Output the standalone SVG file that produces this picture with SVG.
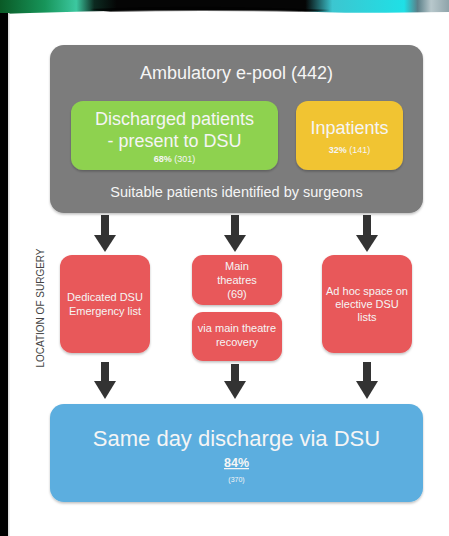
<svg xmlns="http://www.w3.org/2000/svg" width="449" height="536" viewBox="0 0 449 536">
<defs>
<linearGradient id="band" x1="0" y1="0" x2="1" y2="0">
<stop offset="0" stop-color="#0a5a26"/>
<stop offset="0.1" stop-color="#17955a"/>
<stop offset="0.17" stop-color="#3cc8a0"/>
<stop offset="0.21" stop-color="#0c2a20"/>
<stop offset="0.26" stop-color="#050505"/>
<stop offset="0.68" stop-color="#050505"/>
<stop offset="0.74" stop-color="#3cc6d0"/>
<stop offset="0.9" stop-color="#1fe0e6"/>
<stop offset="0.93" stop-color="#5a7f88"/>
<stop offset="0.96" stop-color="#b8c8cc"/>
<stop offset="1" stop-color="#8fa4aa"/>
</linearGradient>
<filter id="sh" x="-10%" y="-10%" width="120%" height="130%">
<feDropShadow dx="0" dy="1.5" stdDeviation="1.2" flood-color="#000" flood-opacity="0.25"/>
</filter>
</defs>
<style>
.t{font-family:"Liberation Sans",Arial,sans-serif;fill:#f5f5f5;text-anchor:middle}
.red{fill:#e8585a}
.arr{fill:#333}
</style>
<rect x="0" y="0" width="449" height="536" fill="#fff"/>
<path d="M0,0 H449 V12 Q330,14 300,11 Q200,9 110,11 Q60,12 0,14 Z" fill="url(#band)"/>
<path d="M90,9 Q200,4 330,10 L300,12 Q200,10 110,12 Z" fill="#000" opacity="0.6"/>
<rect x="0" y="13" width="8" height="523" fill="#000"/>
<rect x="8" y="13" width="1.5" height="523" fill="#ddd"/>

<g id="epool">
<rect x="50" y="45" width="373" height="168" rx="14" fill="#7b7b7b" filter="url(#sh)"/>
<text class="t" x="236.5" y="79" font-size="18">Ambulatory e-pool (442)</text>
<text class="t" x="236.5" y="197" font-size="14.5">Suitable patients identified by surgeons</text>
</g>
<g id="discharged">
<rect x="71" y="101" width="207" height="69" rx="12" fill="#8ed24f" filter="url(#sh)"/>
<text class="t" x="174.5" y="125" font-size="18">Discharged patients</text>
<text class="t" x="174.5" y="147" font-size="18">- present to DSU</text>
<text class="t" x="174.5" y="162" font-size="9"><tspan font-weight="bold">68%</tspan> (301)</text>
</g>
<g id="inpatients">
<rect x="296" y="101" width="107" height="69" rx="12" fill="#f1c432" filter="url(#sh)"/>
<text class="t" x="349.5" y="134" font-size="18">Inpatients</text>
<text class="t" x="349.5" y="153" font-size="9"><tspan font-weight="bold">32%</tspan> (141)</text>
</g>

<g id="connectors">
<rect class="arr" x="101" y="215" width="8" height="21"/>
<path class="arr" d="M94,235 H116 L105,252 Z"/>
<rect class="arr" x="231" y="215" width="8" height="21"/>
<path class="arr" d="M224,235 H246 L235,252 Z"/>
<rect class="arr" x="363" y="215" width="8" height="21"/>
<path class="arr" d="M356,235 H378 L367,252 Z"/>
<rect class="arr" x="101" y="362" width="8" height="20"/>
<path class="arr" d="M94,381 H116 L105,399 Z"/>
<rect class="arr" x="231" y="364" width="8" height="18"/>
<path class="arr" d="M224,381 H246 L235,399 Z"/>
<rect class="arr" x="363" y="362" width="8" height="20"/>
<path class="arr" d="M356,381 H378 L367,399 Z"/>
</g>

<text x="41" y="308" transform="rotate(-90 41 308)" font-family="'Liberation Sans',Arial,sans-serif" font-size="10" fill="#444" text-anchor="middle" dominant-baseline="middle">LOCATION OF SURGERY</text>

<g id="dedicated">
<rect class="red" x="60" y="255" width="90" height="98" rx="12" filter="url(#sh)"/>
<text class="t" x="105" y="301" font-size="11">Dedicated DSU</text>
<text class="t" x="105" y="315" font-size="11">Emergency list</text>
</g>
<g id="main">
<rect class="red" x="192" y="255" width="90" height="50" rx="11" filter="url(#sh)"/>
<text class="t" x="237" y="270" font-size="11">Main</text>
<text class="t" x="237" y="284" font-size="11">theatres</text>
<text class="t" x="237" y="298" font-size="11">(69)</text>
</g>
<g id="recovery">
<rect class="red" x="192" y="312" width="90" height="49" rx="11" filter="url(#sh)"/>
<text class="t" x="237" y="332" font-size="11">via main theatre</text>
<text class="t" x="237" y="346" font-size="11">recovery</text>
</g>
<g id="adhoc">
<rect class="red" x="322" y="255" width="90" height="98" rx="12" filter="url(#sh)"/>
<text class="t" x="367" y="295" font-size="11">Ad hoc space on</text>
<text class="t" x="367" y="308" font-size="11">elective DSU</text>
<text class="t" x="367" y="321" font-size="11">lists</text>
</g>

<g id="sameday">
<rect x="50" y="404" width="373" height="98" rx="14" fill="#5caedf" filter="url(#sh)"/>
<text class="t" x="236.5" y="446" font-size="22">Same day discharge via DSU</text>
<text class="t" x="236.5" y="467" font-size="12.5" font-weight="bold" text-decoration="underline">84%</text>
<text class="t" x="236.5" y="482" font-size="7">(370)</text>
</g>
</svg>
